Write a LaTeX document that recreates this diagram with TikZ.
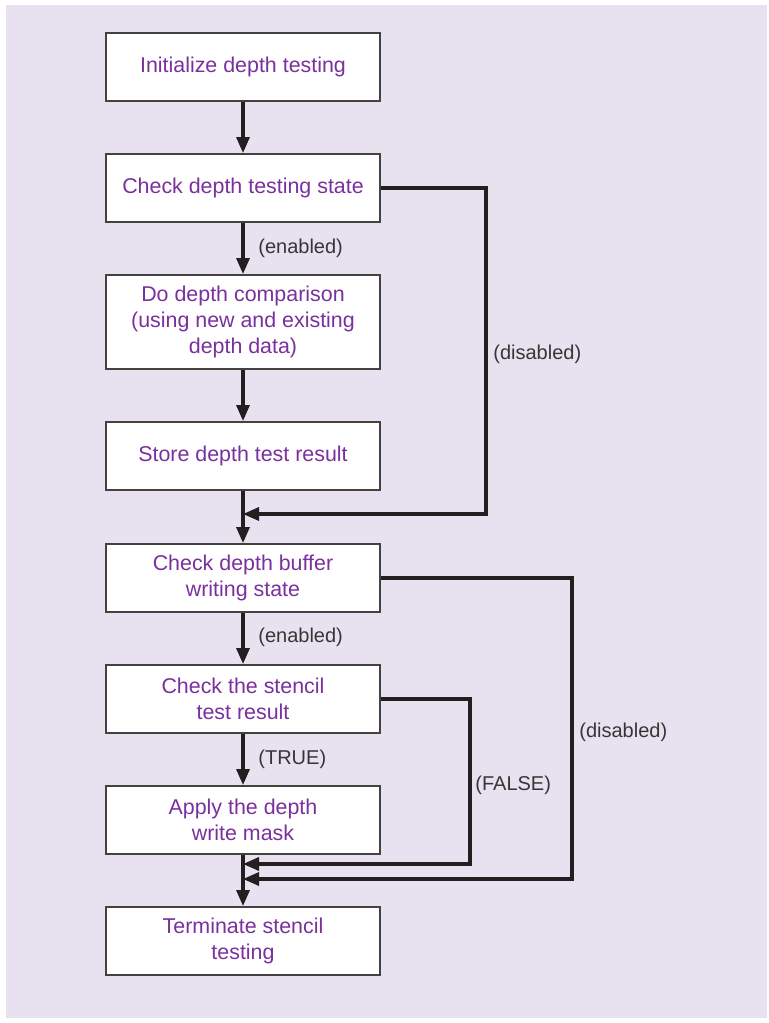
\documentclass[tikz,border=0pt]{standalone}
\usepackage{fontspec}
\setmainfont{Liberation Sans}
\usetikzlibrary{arrows.meta}
\definecolor{bglilac}{HTML}{E7E1F0}
\definecolor{boxtext}{HTML}{7A309E}
\definecolor{linegray}{HTML}{231F20}
\tikzset{
  stepbox/.style={draw=linegray!85, line width=1pt, fill=white, text=boxtext,
    minimum width=137pt, minimum height=34pt, align=center,
    font=\fontsize{10.7}{12.8}\selectfont, inner sep=0pt},
  flow/.style={draw=linegray, line width=1.6pt, -{Triangle[length=8pt,width=6.5pt]}},
  lbl/.style={text=linegray!90, font=\fontsize{10}{12}\selectfont, inner sep=0pt}
}
\begin{document}
\begin{tikzpicture}[x=0.5pt,y=-0.5pt]
  \useasboundingbox (0,0) rectangle (769,1023);
  \fill[bglilac] (6,5) rectangle (767,1018);

  \node[stepbox] (init) at (243,67) {Initialize depth testing};
  \node[stepbox] (dstate) at (243,188) {Check depth testing state};
  \node[stepbox, minimum height=47pt] (cmp) at (243,322) {Do depth comparison\\(using new and existing\\depth data)};
  \node[stepbox] (store) at (243,456) {Store depth test result};
  \node[stepbox] (wstate) at (243,578) {Check depth buffer\\writing state};
  \node[stepbox] (stencil) at (243,699) {Check the stencil\\test result};
  \node[stepbox] (mask) at (243,820) {Apply the depth\\write mask};
  \node[stepbox] (term) at (243,941) {Terminate stencil\\testing};

  \coordinate (m1) at (243,514);
  \coordinate (m2) at (243,864);
  \coordinate (m3) at (243,879);

  % main column
  \draw[flow] (init) -- (dstate);
  \draw[flow] (dstate) -- (cmp);
  \draw[flow] (cmp) -- (store);
  \draw[flow] (store) -- (wstate);
  \draw[flow] (wstate) -- (stencil);
  \draw[flow] (stencil) -- (mask);
  \draw[flow] (mask) -- (term);

  % bypass lines
  \draw[flow] (dstate.east) -- ++(105,0) |- (m1);
  \draw[flow] (stencil.east) -- ++(89,0) |- (m2);
  \draw[flow] (wstate.east) -- ++(191,0) |- (m3);

  \node[lbl, anchor=west] (en1) at (258,248) {(enabled)};
  \node[lbl, anchor=west] (dis1) at (493,354) {(disabled)};
  \node[lbl, anchor=west] (en2) at (258,637) {(enabled)};
  \node[lbl, anchor=west] (tru) at (258,759) {(TRUE)};
  \node[lbl, anchor=west] (fls) at (475,785) {(FALSE)};
  \node[lbl, anchor=west] (dis2) at (579,732) {(disabled)};
\end{tikzpicture}
\end{document}
